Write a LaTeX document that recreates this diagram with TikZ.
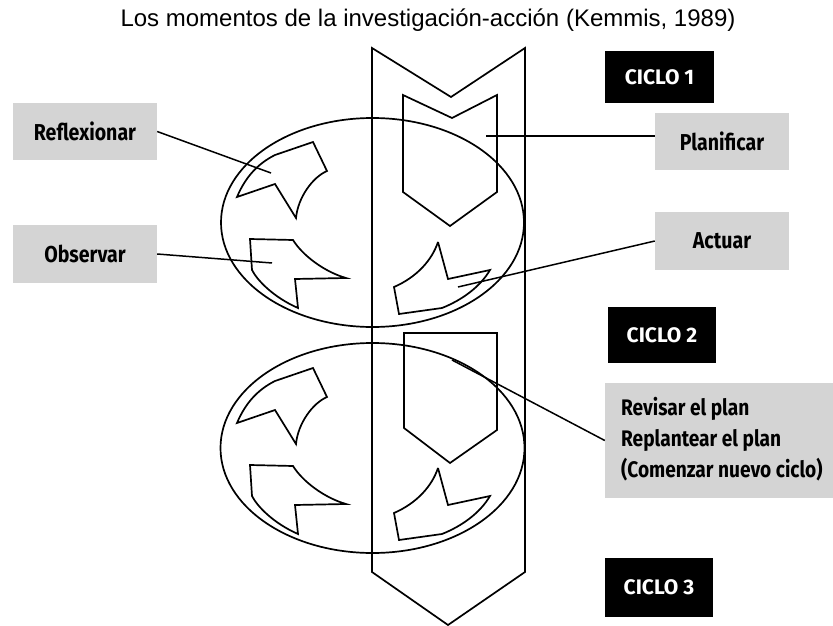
\documentclass[tikz,border=0pt]{standalone}
\usepackage{fontspec}
\setmainfont{Liberation Sans}
\newfontfamily\labfont[FakeStretch=0.85]{Fira Sans}
\newfontfamily\cycfont{Fira Sans}
\usetikzlibrary{calc}
\begin{document}
\begin{tikzpicture}[x=1pt,y=-1pt,
  outline/.style={draw=black,line width=1.7pt,line join=miter},
  conn/.style={draw=black,line width=1.5pt},
  graybox/.style={rectangle,fill=black!17,inner sep=0pt,font=\labfont\bfseries\fontsize{23}{27}\selectfont},
  cyclebox/.style={rectangle,fill=black,text=white,inner sep=0pt,font=\cycfont\bfseries\fontsize{21}{25}\selectfont},
  shapes1/.pic={
    % reflexionar-type arrow
    \draw[outline] (237,197) .. controls (245,178) and (257,164) .. (275,155)
       -- (313,142) -- (327,171) .. controls (313,177) and (298,197) .. (296,218)
       -- (275,184) -- cycle;
    % observar-type arrow
    \draw[outline] (250,239) -- (293,240) .. controls (303,256) and (325,272) .. (346,278)
       -- (295,279) -- (298,308) .. controls (273,297) and (257,280) .. (252,270) -- cycle;
    % actuar-type arrow
    \draw[outline] (438,242) -- (448,279) -- (490,270) .. controls (480,287) and (462,300) .. (442,308)
       -- (399,314) -- (394,287) .. controls (417,277) and (432,260) .. (438,242);
  }]
\useasboundingbox (0,0) rectangle (833,626);

% title
\node[anchor=base,font=\fontsize{24}{28}\selectfont] (title) at (428,27) {Los momentos de la investigación-acción (Kemmis, 1989)};

% central strip
\draw[outline] (372,48) -- (451,97) -- (525,48) -- (525,572) -- (448,625) -- (372,572) -- cycle;

% ellipses
\draw[outline] (372.5,222.5) ellipse [x radius=151.5,y radius=104.5];
\draw[outline] (372.5,448) ellipse [x radius=152,y radius=105];

% inner pentagons
\draw[outline] (403,95) -- (452,118) -- (497,95) -- (497,192) -- (450,226) -- (403,192) -- cycle;
\draw[outline] (404,333) -- (497,333) -- (497,430) -- (450,463) -- (404,428) -- cycle;

% arrow shapes
\pic at (0,0) {shapes1};
\pic at (0,226) {shapes1};

% labels
\node[graybox,minimum width=144,minimum height=57] (refl) at (85,131.5) {Reflexionar};
\node[graybox,minimum width=144,minimum height=58] (obs) at (85,254) {Observar};
\node[graybox,minimum width=134,minimum height=57] (plan) at (722,141.5) {Planificar};
\node[graybox,minimum width=134,minimum height=58] (act) at (722,241) {Actuar};
\node[graybox,minimum width=228,minimum height=115] (revbg) at (719,440.5) {};
\node[anchor=west,align=left,inner sep=0pt,
      font=\labfont\bfseries\fontsize{22.5}{31}\selectfont] (rev) at (621,439)
      {Revisar el plan\\Replantear el plan\\(Comenzar nuevo ciclo)};

\node[cyclebox,minimum width=109,minimum height=52] (c1) at (659.5,77) {CICLO 1};
\node[cyclebox,minimum width=108,minimum height=56] (c2) at (662,335) {CICLO 2};
\node[cyclebox,minimum width=108,minimum height=59] (c3) at (659,587.5) {CICLO 3};

% connector end points
\coordinate (prefl) at (271,173);
\coordinate (pobs) at (272,263);
\coordinate (pplan) at (486,136);
\coordinate (pact) at (458,287);
\coordinate (prev) at (452,360);

\draw[conn] (refl.east) -- (prefl);
\draw[conn] (obs.east) -- (pobs);
\draw[conn] (pplan) -- (pplan -| plan.west);
\draw[conn] (pact) -- (act.west);
\draw[conn] (prev) -- (revbg.west);
\end{tikzpicture}
\end{document}
